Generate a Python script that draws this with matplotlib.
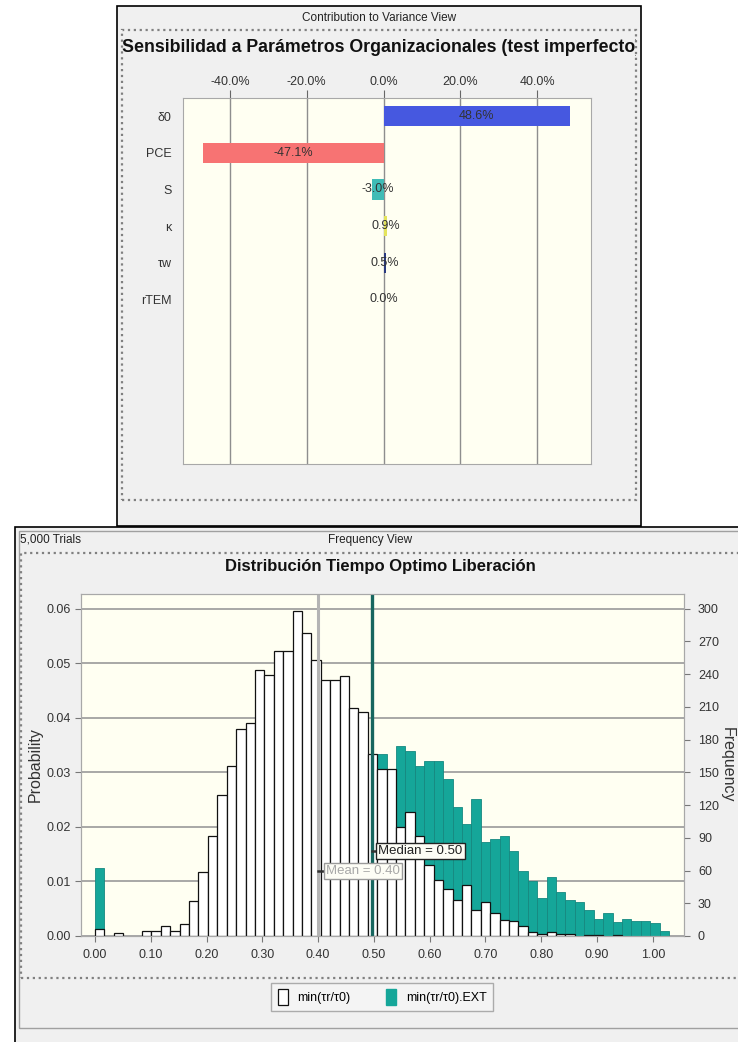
import matplotlib
matplotlib.use('Agg')
import matplotlib.pyplot as plt
import numpy as np
from matplotlib.patches import Rectangle, Patch
from matplotlib.transforms import Bbox, TransformedBbox

# ---- data: contribution to variance (%)
params = ['δ0', 'PCE', 'S', 'κ', 'τw', 'rTEM']
contrib = [48.6, -47.1, -3.0, 0.9, 0.5, 0.0]
contrib_colors = ['#4658e0', '#f77373', '#3fbcb6', '#e4e45c', '#2a3a80', '#9a9a9a']
contrib_ticks = [-40, -20, 0, 20, 40]

# ---- data: frequency view, 5,000 trials, counts per bin (bins start at 0)
trials = 5000
bin_width = 0.01687
base_counts = [6, 0, 3, 0, 0, 5, 5, 9, 5, 11,
               32, 59, 92, 129, 156, 190, 195, 244, 239, 261,
               261, 298, 278, 253, 235, 235, 238, 209, 205, 167,
               153, 153, 100, 114, 92, 65, 51, 43, 33, 47,
               24, 31, 21, 15, 14, 9, 4, 2, 4, 2,
               2, 0, 1, 1, 0, 1, 0, 0, 0, 0, 0]
# EXT series; bins 5-29 are hidden behind the white bars (rough guesses)
ext_counts = [62, 0, 0, 0, 0, 2, 2, 3, 2, 4,
              12, 25, 40, 55, 70, 85, 100, 115, 125, 135,
              140, 150, 155, 160, 160, 165, 160, 160, 160, 160,
              167, 150, 174, 170, 156, 160, 160, 144, 118, 103,
              126, 86, 89, 92, 78, 60, 50, 35, 54, 40,
              33, 31, 24, 16, 21, 13, 16, 14, 14, 12, 5]
mean_val = 0.40
median_val = 0.497
freq_xticks = [0.0, 0.1, 0.2, 0.3, 0.4, 0.5, 0.6, 0.7, 0.8, 0.9, 1.0]
prob_ticks = [0.0, 0.01, 0.02, 0.03, 0.04, 0.05, 0.06]
count_ticks = [0, 30, 60, 90, 120, 150, 180, 210, 240, 270, 300]

SANS = ['Liberation Sans', 'DejaVu Sans']
NARROW = ['Liberation Sans Narrow', 'Liberation Sans', 'DejaVu Sans']
plt.rcParams['font.family'] = SANS

W, H = 738, 1042
fig = plt.figure(figsize=(W / 100, H / 100), dpi=100, facecolor='white')

def box(x0, y0, x1, y1):
    return [x0 / W, 1 - y1 / H, (x1 - x0) / W, (y1 - y0) / H]

def rect(x0, y0, x1, y1, **kw):
    fig.add_artist(Rectangle((x0 / W, 1 - y1 / H), (x1 - x0) / W, (y1 - y0) / H,
                             transform=fig.transFigure, zorder=-10, **kw))

def ftext(x, y, s, **kw):
    return fig.text(x / W, 1 - y / H, s, **kw)

# window frames (behind the axes)
rect(117, 6, 641, 526, facecolor='#f0f0f0', edgecolor='black', lw=1.2)
rect(122, 30, 636, 500, fill=False, edgecolor='#808080', ls=':', lw=1.6)
rect(15, 527, 760, 1060, facecolor='#f0f0f0', edgecolor='black', lw=1.2)
rect(19, 531, 760, 1028, fill=False, edgecolor='#a0a0a0', lw=1.0)
rect(21, 553, 760, 978, fill=False, edgecolor='#808080', ls=':', lw=1.6)

# ---- top: contribution to variance
ftext(379, 18, 'Contribution to Variance View', ha='center', va='center',
      fontsize=8.5, family=NARROW, color='#222')
t = ftext(122, 47, 'Sensibilidad a Parámetros Organizacionales (test imperfecto)',
          ha='left', va='center', fontsize=12.8, fontweight='bold', color='#111')
t.set_clip_box(TransformedBbox(Bbox.from_extents(122 / W, 1 - 500 / H, 636 / W, 1 - 30 / H),
                               fig.transFigure))
t.set_clip_on(True)

ax1 = fig.add_axes(box(182.7, 98, 591, 464))
ax1.set_facecolor('#fffff2')
ypos = np.arange(len(params))
ax1.barh(ypos, contrib, height=0.55, color=contrib_colors, zorder=3)
for y, v in zip(ypos, contrib):
    ax1.text(v / 2, y, f'{v:.1f}%', ha='center', va='center', fontsize=9,
             color='#333', zorder=4)
ax1.set_ylim(9.5, -0.5)
ax1.set_xlim(-52.3, 54.0)
ax1.set_xticks(contrib_ticks)
ax1.set_xticklabels([f'{v:.1f}%' for v in contrib_ticks])
ax1.xaxis.tick_top()
ax1.tick_params(axis='x', length=6, color='#666', labelsize=9, labelcolor='#333', pad=1.5)
ax1.set_yticks(ypos)
ax1.set_yticklabels(params)
ax1.tick_params(axis='y', length=0, pad=8, labelsize=9, labelcolor='#333')
ax1.grid(axis='x', color='#8e8e8e', lw=1)
ax1.set_axisbelow(True)
for s in ax1.spines.values():
    s.set_color('#a8a8a8')

# ---- bottom: frequency view
ftext(20, 540, '5,000 Trials', ha='left', va='center', fontsize=8.5, family=NARROW, color='#222')
ftext(370, 540, 'Frequency View', ha='center', va='center', fontsize=8.5, family=NARROW, color='#222')
ftext(380, 566, 'Distribución Tiempo Optimo Liberación', ha='center', va='center',
      fontsize=12, fontweight='bold', family=NARROW, color='#111')

ax2 = fig.add_axes(box(81, 594, 684, 936))
ax2.set_facecolor('#fffff2')
base = np.array(base_counts)
ext = np.array(ext_counts)
lefts = np.arange(len(base)) * bin_width
ax2.bar(lefts[ext > 0], ext[ext > 0] / trials, width=bin_width, align='edge',
        color='#15a699', edgecolor='#168880', lw=0.6, zorder=2)
ax2.bar(lefts[base > 0], base[base > 0] / trials, width=bin_width, align='edge',
        color='white', edgecolor='#111', lw=0.9, zorder=3)
ax2.axvline(mean_val, color='#b4b4b4', lw=2.2, zorder=4)
ax2.axvline(median_val, color='#17665f', lw=2.4, zorder=5)

ax2.plot([mean_val, mean_val + 0.012], [0.0119, 0.0119], color='#333', lw=1.8, zorder=6)
ax2.text(mean_val + 0.014, 0.0119, f'Mean = {mean_val:.2f}', ha='left', va='center',
         fontsize=9.5, family=NARROW, color='#a8a8a8', zorder=7,
         bbox=dict(boxstyle='square,pad=0.15', fc='#fdfdf5', ec='#9a9a9a', lw=1))
ax2.plot([median_val, median_val + 0.008], [0.0156, 0.0156], color='#333', lw=1.8, zorder=6)
ax2.text(median_val + 0.011, 0.0156, f'Median = {median_val:.2f}', ha='left', va='center',
         fontsize=9.5, family=NARROW, color='#222', zorder=7,
         bbox=dict(boxstyle='square,pad=0.15', fc='#fdfdf5', ec='#222', lw=1))

ax2.set_xlim(-0.025, 1.056)
ax2.set_ylim(0, 0.0627)
ax2.set_xticks(freq_xticks)
ax2.set_xticklabels([f'{v:.2f}' for v in freq_xticks], family=NARROW)
ax2.set_yticks(prob_ticks)
ax2.set_yticklabels([f'{v:.2f}' for v in prob_ticks], family=NARROW)
ax2.tick_params(length=4, color='#777', labelsize=9, labelcolor='#333')
ax2.tick_params(axis='x', pad=5)
ax2.grid(axis='y', color='#9a9a9a', lw=1.2, zorder=1)
ax2.set_axisbelow(True)
for s in ax2.spines.values():
    s.set_color('#a8a8a8')

ax3 = ax2.twinx()
ax3.set_ylim(0, 0.0627 * trials)
ax3.set_yticks(count_ticks)
ax3.set_yticklabels([str(v) for v in count_ticks], family=NARROW)
ax3.tick_params(length=4, color='#777', labelsize=9, labelcolor='#333', pad=6)
for s in ax3.spines.values():
    s.set_color('#a8a8a8')

ftext(35, 765, 'Probability', rotation=90, ha='center', va='center', fontsize=11.5, color='#333')
ftext(727, 765, 'Frequency', rotation=270, ha='center', va='center', fontsize=11.5, color='#333')

handles = [Patch(facecolor='white', edgecolor='#111', lw=0.9),
           Patch(facecolor='#15a699', edgecolor='#15a699')]
fig.legend(handles, ['min(τr/τ0)', 'min(τr/τ0).EXT'], loc='center',
           bbox_to_anchor=(382 / W, 1 - 997 / H), ncol=2, frameon=True, fancybox=False,
           edgecolor='#9a9a9a', facecolor='#f6f6f6', prop={'family': NARROW, 'size': 9},
           handlelength=0.8, handleheight=1.5, columnspacing=2.8, borderpad=0.5)

fig.savefig('out.png', dpi=100)
